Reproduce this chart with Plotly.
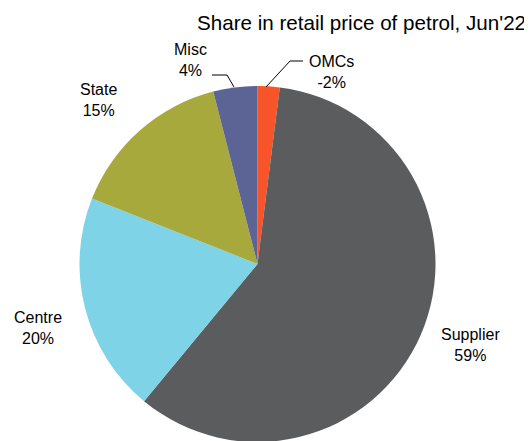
import plotly.graph_objects as go

W, H = 532, 441
OFF = 8  # page body margin offset in the browser

categories = ["OMCs", "Supplier", "Centre", "State", "Misc"]
shares = [2, 59, 20, 15, 4]          # slice sizes (%)
label_values = ["-2%", "59%", "20%", "15%", "4%"]  # as printed
colors = ["#f8542a", "#5b5c5e", "#7ed3e6", "#a8a93c", "#5c6495"]

title_text = "Share in retail price of petrol, Jun'22"

# label positions in screen pixels (x, y from top)
label_pos = {
    "OMCs": (331, 72),
    "Supplier": (470, 345),
    "Centre": (38, 328),
    "State": (98, 100),
    "Misc": (190, 60),
}

def px(x):
    return (x - OFF) / W

def py(y):
    return 1 - (y - OFF) / H

fig = go.Figure(go.Pie(
    labels=categories,
    values=shares,
    marker=dict(colors=colors, line=dict(width=0)),
    sort=False,
    direction="clockwise",
    rotation=0,
    textinfo="none",
    hoverinfo="label+percent",
    showlegend=False,
    domain=dict(x=[px(257.5 - 178), px(257.5 + 178)], y=[py(442), py(86)]),
))

annotations = []
for cat, lv in zip(categories, label_values):
    x, y = label_pos[cat]
    annotations.append(dict(
        x=px(x), y=py(y), xref="paper", yref="paper",
        text=f"{cat}<br>{lv}", showarrow=False,
        font=dict(family="Liberation Sans, Arial, sans-serif", size=16, color="#000000"),
        xanchor="center", yanchor="middle", align="center",
    ))
annotations.append(dict(
    x=px(195), y=py(22), xref="paper", yref="paper",
    text=title_text, showarrow=False,
    font=dict(family="Liberation Sans, Arial, sans-serif", size=20.6, color="#000000"),
    xanchor="left", yanchor="middle",
))

line_style = dict(color="#000000", width=1)
shapes = [
    # Misc leader
    dict(type="path", xref="paper", yref="paper",
         path=f"M {px(212)} {py(75)} L {px(227)} {py(75)} L {px(234)} {py(87)}",
         line=line_style),
    # OMCs leader
    dict(type="path", xref="paper", yref="paper",
         path=f"M {px(266)} {py(87)} L {px(290)} {py(61)} L {px(303)} {py(61)}",
         line=line_style),
]

fig.update_layout(
    width=W, height=H,
    margin=dict(l=0, r=0, t=0, b=0),
    paper_bgcolor="#ffffff",
    plot_bgcolor="#ffffff",
    annotations=annotations,
    shapes=shapes,
)

fig.write_html("out.html")
